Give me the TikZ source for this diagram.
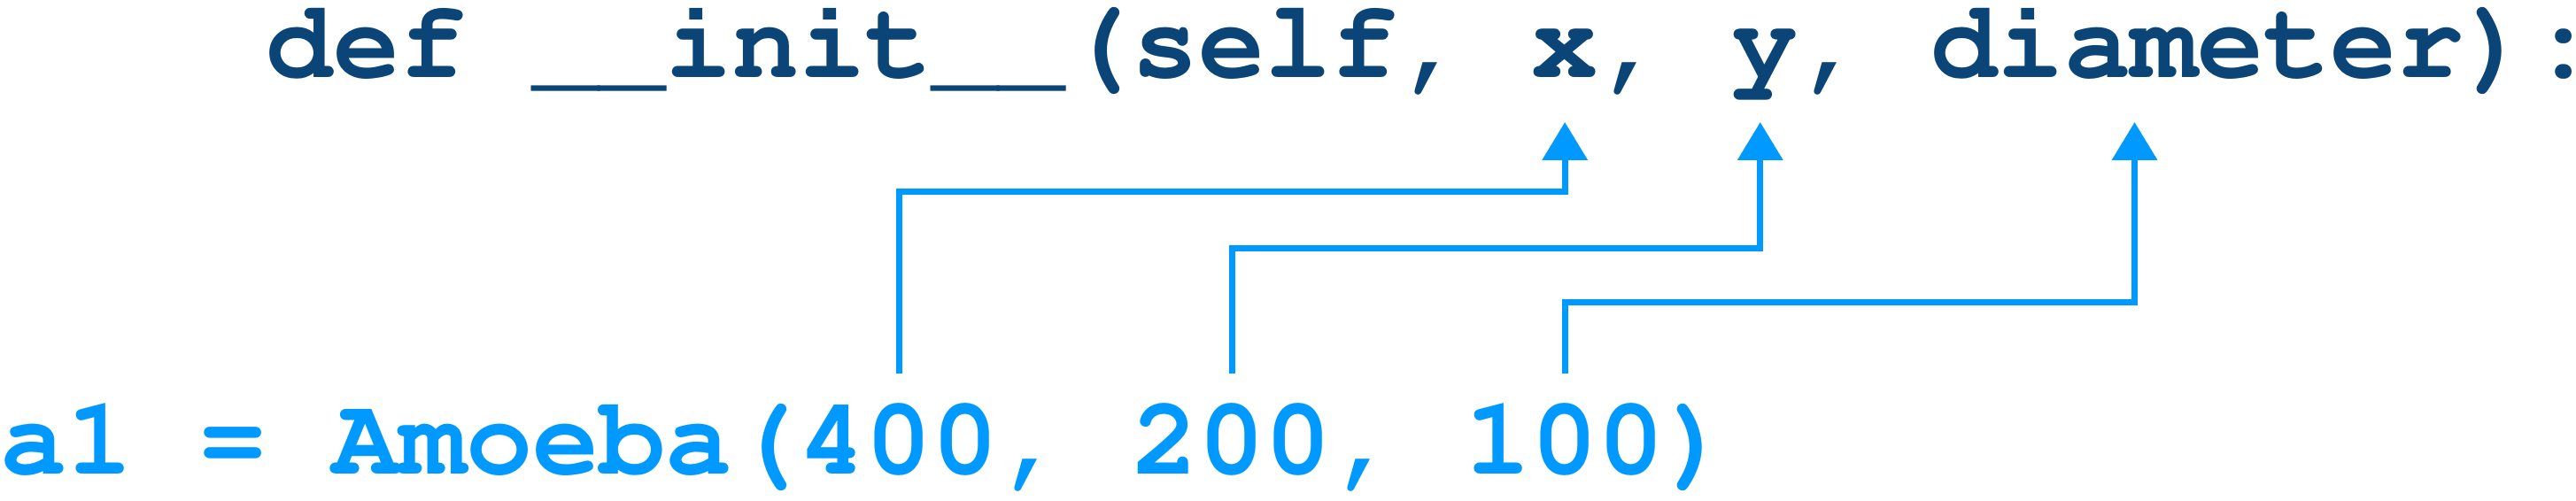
\documentclass[tikz,border=0pt]{standalone}
\usepackage[T1]{fontenc}
\usepackage{courier}
\usepackage{tikz}
\usetikzlibrary{positioning,arrows.meta}
\definecolor{defblue}{RGB}{11,68,118}
\definecolor{callblue}{RGB}{0,153,255}

\begin{document}
\begin{tikzpicture}[
  codeline/.style={
    inner sep=0pt,
    outer sep=0pt,
    font=\ttfamily\bfseries\fontsize{35.66pt}{40pt}\selectfont
  },
  param/.style={codeline, text=defblue},
  arg/.style={codeline, text=callblue},
  link/.style={-{Triangle[length=0.43cm,width=0.5cm]}, line width=0.07cm, draw=callblue}
]
  \useasboundingbox (0,0) rectangle (29.09,5.66);

  % method header
  \node[param, anchor=base west] (head) at (3.008,4.78) {def\ \_\_init\_\_(self,\ \null};
  \node[param, base right=0pt of head] (px) {x};
  \node[param, base right=0pt of px] (sepa) {,\ \null};
  \node[param, base right=0pt of sepa] (py) {y};
  \node[param, base right=0pt of py] (sepb) {,\ \null};
  \node[param, base right=0pt of sepb] (pdiam) {diameter};
  \node[param, base right=0pt of pdiam] (colon) {):};

  % constructor call
  \node[arg, anchor=base west] (call) at (0,0.30) {a1\ =\ Amoeba(};
  \node[arg, base right=0pt of call] (a400) {400};
  \node[arg, base right=0pt of a400] (sepc) {,\ \null};
  \node[arg, base right=0pt of sepc] (a200) {200};
  \node[arg, base right=0pt of a200] (sepd) {,\ \null};
  \node[arg, base right=0pt of sepd] (a100) {100};
  \node[arg, base right=0pt of a100] (close) {)};

  \draw[link] ([yshift=1.14cm]a400.base) -- ++(0,2.05) -| ([yshift=-0.50cm]px.base);
  \draw[link] ([yshift=1.14cm]a200.base) -- ++(0,1.41) -| ([xshift=-0.05cm,yshift=-0.50cm]py.base);
  \draw[link] ([yshift=1.14cm]a100.base) -- ++(0,0.80) -| ([xshift=-0.71cm,yshift=-0.50cm]pdiam.base);
\end{tikzpicture}
\end{document}
